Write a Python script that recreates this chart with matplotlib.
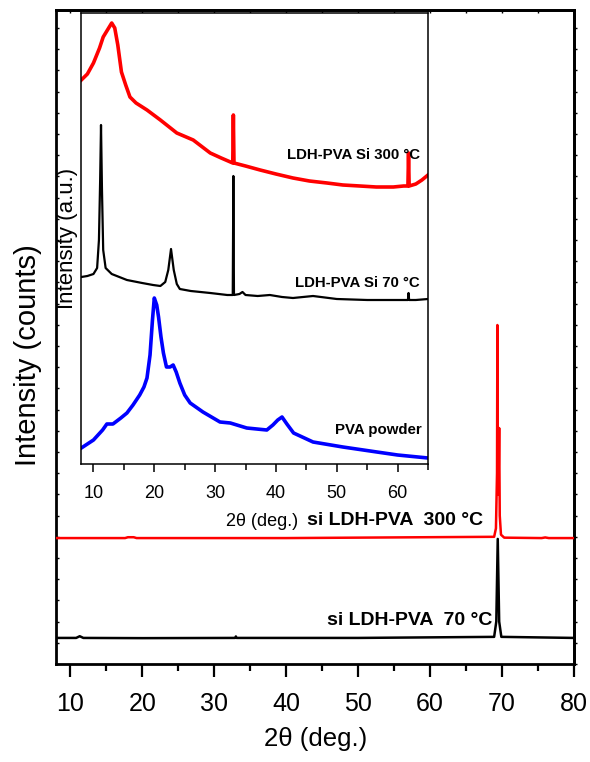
import matplotlib
matplotlib.use("Agg")
import matplotlib.pyplot as plt
from matplotlib import font_manager as fm
from matplotlib.ticker import MultipleLocator

names = {f.name for f in fm.fontManager.ttflist}
REG = "Liberation Sans" if "Liberation Sans" in names else "DejaVu Sans"
NARROW = "Liberation Sans Narrow" if "Liberation Sans Narrow" in names else REG
HAS_NARROW = NARROW != REG
plt.rcParams["font.family"] = [REG, "DejaVu Sans"]

# ---------------- main panel data (counts) ----------------
main_black_x = [8.0, 10.8, 11.3, 11.8, 20.0, 32.9, 33.0, 33.1, 50.0, 68.9, 69.2, 69.4, 69.6, 69.9, 80.0]
main_black_y = [123, 123, 131, 123, 122, 123, 130, 123, 123, 128, 200, 590, 200, 128, 123]
main_red_x = [8.0, 17.6, 18.0, 18.8, 19.2, 40.0, 68.9, 69.15, 69.3, 69.35, 69.42, 69.5, 69.6, 69.68, 69.85, 70.3, 75.5, 76.0, 76.5, 80.0]
main_red_y = [594, 594, 598, 598, 594, 594, 600, 640, 900, 1599, 900, 800, 1113, 700, 610, 596, 594, 597, 594, 594]

# ---------------- inset data (a.u.) ----------------
in_red_x = [8.0, 9.0, 10.0, 11.0, 11.6, 12.3, 13.0, 13.5, 14.0, 14.6, 15.3, 16.0, 17.0, 18.8, 21.0,
            23.7, 26.4, 29.2, 31.0, 32.9, 33.0, 33.1, 35.0, 37.4, 40.0, 42.8, 45.5, 48.4, 51.0, 53.8,
            56.5, 59.3, 61.0, 61.7, 61.8, 61.9, 63.0, 64.0, 65.0]
in_red_y = [384, 390, 401, 416, 427, 434, 441, 436, 419, 392, 379, 367, 361, 354, 344,
            331, 324, 311, 306, 301, 349, 301, 298, 294, 290, 286, 283, 281, 279, 278,
            277, 277, 278, 278, 311, 278, 280, 284, 289]
in_black_x = [8.0, 9.0, 10.0, 10.6, 10.9, 11.1, 11.24, 11.4, 11.6, 12.0, 13.0, 15.5, 18.0, 19.8, 21.0,
              21.8, 22.3, 22.75, 23.2, 23.7, 24.2, 26.0, 29.2, 32.0, 32.9, 33.0, 33.1, 34.0, 34.5,
              35.0, 37.0, 39.0, 41.0, 42.8, 46.1, 50.0, 55.0, 60.0, 61.7, 61.8, 61.9, 63.0, 65.0]
in_black_y = [187, 188, 190, 196, 224, 284, 339, 274, 214, 196, 190, 184, 181, 179, 178,
              182, 194, 215, 194, 180, 175, 173, 171, 169, 169, 288, 169, 170, 172,
              169, 168, 169, 167, 166, 168, 165, 164, 164, 164, 171, 164, 164, 165]
in_blue_x = [8.0, 10.0, 11.5, 12.2, 13.2, 14.5, 15.5, 16.5, 17.6, 18.3, 18.8, 19.3, 19.7, 20.0,
             20.4, 20.7, 21.1, 21.5, 22.0, 22.6, 23.1, 23.6, 24.2, 25.0, 25.9, 28.0, 30.8, 32.5,
             35.2, 38.5, 39.5, 40.3, 41.0, 41.8, 42.9, 46.1, 51.0, 56.6, 60.0, 65.0]
in_blue_y = [16, 24, 34, 40, 40, 46, 51, 59, 69, 77, 86, 109, 144, 166,
             159, 147, 127, 111, 97, 97, 99, 92, 81, 69, 61, 52, 42, 41,
             36, 34, 39, 44, 47, 40, 31, 22, 17, 12, 9, 6]

main_xticks = [10, 20, 30, 40, 50, 60, 70, 80]
inset_xticks = [10, 20, 30, 40, 50, 60]

fig = plt.figure(figsize=(5.90, 7.62), dpi=100)
W, H = 590, 762

def box(l, t, r, b):
    return [l / W, 1 - b / H, (r - l) / W, (b - t) / H]

# ---------------- main axes ----------------
ax = fig.add_axes(box(56, 10, 574, 664))
ax.plot(main_black_x, main_black_y, color="black", lw=1.8, zorder=2)
ax.plot(main_red_x, main_red_y, color="red", lw=1.8, zorder=3)
ax.set_xlim(8, 80)
ax.set_ylim(0, 3085)
ax.set_xticks(main_xticks)
ax.xaxis.set_minor_locator(MultipleLocator(5))
ax.yaxis.set_major_locator(MultipleLocator(100))
ax.set_yticklabels([])
for s in ax.spines.values():
    s.set_linewidth(2.0)
ax.tick_params(axis="x", which="major", direction="out", length=9.5, width=1.6,
               labelsize=18, pad=11, top=False)
ax.tick_params(axis="x", which="minor", direction="out", length=5, width=1.6, top=False)
ax.tick_params(axis="y", which="major", direction="in", length=2, width=1.0, left=True, right=False)
ax.set_xlabel("2θ (deg.)", fontsize=18.5)
ax.xaxis.set_label_coords(0.502, -0.097)

sec_r = ax.secondary_yaxis("right")
sec_r.yaxis.set_major_locator(MultipleLocator(100))
sec_r.tick_params(direction="out", length=2, width=1.0, labelright=False)
sec_r.spines["right"].set_linewidth(2.0)
sec_t = ax.secondary_xaxis("top")
sec_t.xaxis.set_major_locator(MultipleLocator(5))
sec_t.tick_params(direction="in", length=2, width=1.0, labeltop=False)
sec_t.spines["top"].set_linewidth(2.0)

fig.text(28 / W, 1 - 355 / H, "Intensity (counts)", rotation=90, ha="center", va="center", fontsize=21)

ax.text(0.824, 0.219, "si LDH-PVA  300 °C", transform=ax.transAxes, ha="right", va="center",
        fontsize=14, fontweight="bold")
ax.text(0.842, 0.067, "si LDH-PVA  70 °C", transform=ax.transAxes, ha="right", va="center",
        fontsize=14, fontweight="bold")

# ---------------- inset axes ----------------
ai = fig.add_axes(box(81.3, 13, 428, 464))
ai.plot(in_blue_x, in_blue_y, color="#0000ff", lw=2.6, zorder=2)
ai.plot(in_black_x, in_black_y, color="black", lw=1.6, zorder=3)
ai.plot(in_red_x, in_red_y, color="red", lw=2.6, zorder=2)
ai.set_xlim(8, 65)
ai.set_ylim(0, 451)
ai.set_xticks(inset_xticks)
ai.xaxis.set_minor_locator(MultipleLocator(5))
ai.set_yticks([])
for s in ai.spines.values():
    s.set_linewidth(1.1)
ai.tick_params(axis="x", which="major", direction="out", length=6, width=1.1, labelsize=13, pad=9)
ai.tick_params(axis="x", which="minor", direction="out", length=4, width=1.1)
ai.set_xlabel("2θ (deg.)", fontsize=13)
ai.xaxis.set_label_coords(0.52, -0.108)

lab_fs = 12 if HAS_NARROW else 10.8
ai.text(0.977, 0.685, "LDH-PVA Si 300 °C", transform=ai.transAxes, ha="right", va="center",
        fontsize=lab_fs, fontweight="bold", family=[NARROW, "DejaVu Sans"])
ai.text(0.977, 0.401, "LDH-PVA Si 70 °C", transform=ai.transAxes, ha="right", va="center",
        fontsize=lab_fs, fontweight="bold", family=[NARROW, "DejaVu Sans"])
ai.text(0.983, 0.075, "PVA powder", transform=ai.transAxes, ha="right", va="center",
        fontsize=lab_fs, fontweight="bold", family=[NARROW, "DejaVu Sans"])

fig.text(68 / W, 1 - 238 / H, "Intensity (a.u.)", rotation=90, ha="center", va="center",
         fontsize=18 if HAS_NARROW else 16, family=[NARROW, "DejaVu Sans"])

fig.savefig("out.png", dpi=100)
